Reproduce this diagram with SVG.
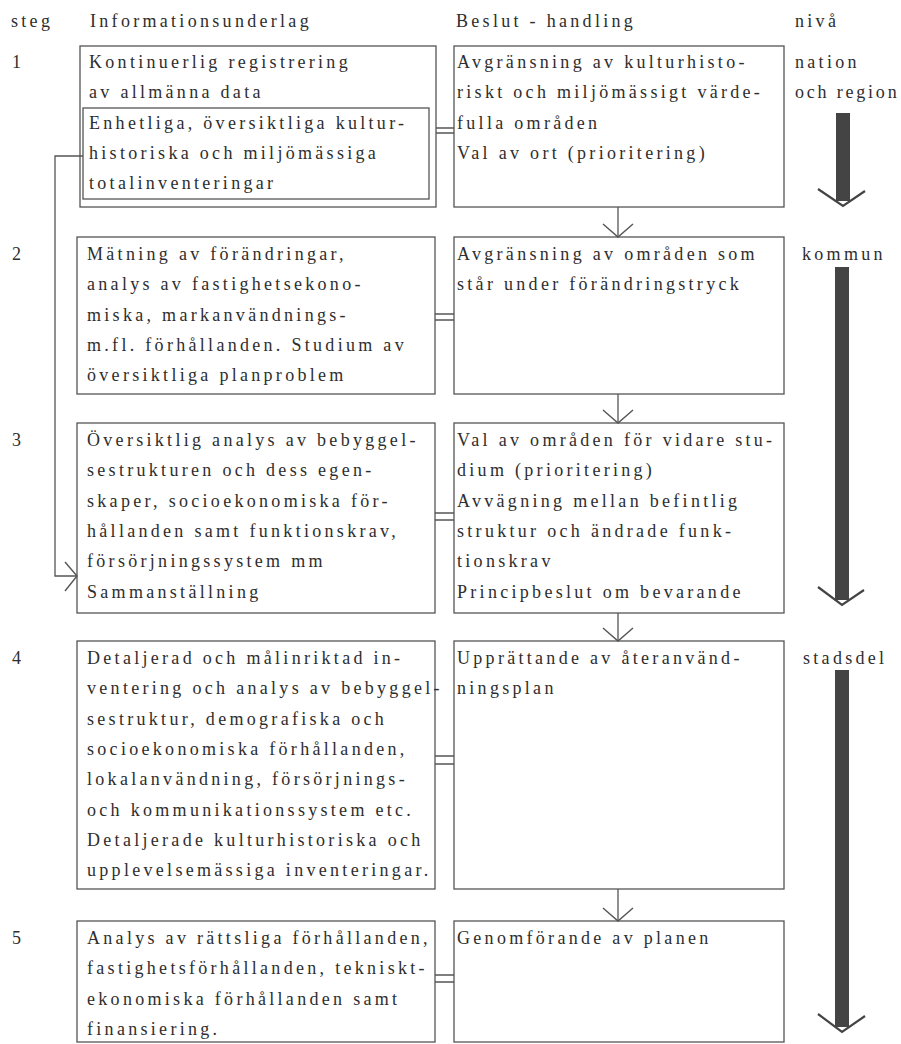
<svg xmlns="http://www.w3.org/2000/svg" width="901" height="1044" viewBox="0 0 901 1044">
<defs>
<style>
text{font-family:"Liberation Serif","Times New Roman",serif;font-size:18px;letter-spacing:3.3px;fill:#2e2e2e}
.box{fill:none;stroke:#555;stroke-width:1.3}
.ln{fill:none;stroke:#555;stroke-width:1.3}
.chev{fill:none;stroke:#555;stroke-width:1.4}
.big{fill:#444}
.bigchev{fill:none;stroke:#444;stroke-width:2.2}
</style>
</defs>
<rect width="901" height="1044" fill="#fff"/>
<g id="header">
<text x="11" y="27">steg</text>
<text x="90" y="27">Informationsunderlag</text>
<text x="456" y="27">Beslut - handling</text>
<text x="795" y="27">nivå</text>
</g>
<g id="steps">
<text x="12" y="68">1</text>
<text x="12" y="260">2</text>
<text x="12" y="446">3</text>
<text x="12" y="664">4</text>
<text x="12" y="944">5</text>
</g>
<g id="info1">
<rect class="box" x="80" y="46" width="356" height="161"/>
<text x="89" y="68">Kontinuerlig registrering</text>
<text x="89" y="98">av allmänna data</text>
<rect class="box" x="83" y="108" width="346" height="91"/>
<text x="89" y="129">Enhetliga, översiktliga kultur-</text>
<text x="89" y="159">historiska och miljömässiga</text>
<text x="89" y="189">totalinventeringar</text>
</g>
<g id="beslut1">
<rect class="box" x="454" y="46" width="330" height="161"/>
<text x="457" y="68">Avgränsning av kulturhisto-</text>
<text x="457" y="98">riskt och miljömässigt värde-</text>
<text x="457" y="129">fulla områden</text>
<text x="457" y="159">Val av ort (prioritering)</text>
</g>
<g id="info2">
<rect class="box" x="77" y="237" width="358" height="157"/>
<text x="87" y="260">Mätning av förändringar,</text>
<text x="87" y="290">analys av fastighetsekono-</text>
<text x="87" y="321">miska, markanvändnings-</text>
<text x="87" y="351">m.fl. förhållanden. Studium av</text>
<text x="87" y="381">översiktliga planproblem</text>
</g>
<g id="beslut2">
<rect class="box" x="454" y="237" width="330" height="157"/>
<text x="457" y="260">Avgränsning av områden som</text>
<text x="457" y="290">står under förändringstryck</text>
</g>
<g id="info3">
<rect class="box" x="77" y="423" width="358" height="190"/>
<text x="87" y="446">Översiktlig analys av bebyggel-</text>
<text x="87" y="476">sestrukturen och dess egen-</text>
<text x="87" y="507">skaper, socioekonomiska för-</text>
<text x="87" y="537">hållanden samt funktionskrav,</text>
<text x="87" y="567">försörjningssystem mm</text>
<text x="87" y="598">Sammanställning</text>
</g>
<g id="beslut3">
<rect class="box" x="454" y="423" width="330" height="190"/>
<text x="457" y="446">Val av områden för vidare stu-</text>
<text x="457" y="476">dium (prioritering)</text>
<text x="457" y="507">Avvägning mellan befintlig</text>
<text x="457" y="537">struktur och ändrade funk-</text>
<text x="457" y="567">tionskrav</text>
<text x="457" y="598">Principbeslut om bevarande</text>
</g>
<g id="info4">
<rect class="box" x="77" y="641" width="358" height="248"/>
<text x="87" y="664">Detaljerad och målinriktad in-</text>
<text x="87" y="694">ventering och analys av bebyggel-</text>
<text x="87" y="725">sestruktur, demografiska och</text>
<text x="87" y="755">socioekonomiska förhållanden,</text>
<text x="87" y="785">lokalanvändning, försörjnings-</text>
<text x="87" y="816">och kommunikationssystem etc.</text>
<text x="87" y="846">Detaljerade kulturhistoriska och</text>
<text x="87" y="876">upplevelsemässiga inventeringar.</text>
</g>
<g id="beslut4">
<rect class="box" x="454" y="641" width="330" height="248"/>
<text x="457" y="664">Upprättande av återanvänd-</text>
<text x="457" y="694">ningsplan</text>
</g>
<g id="info5">
<rect class="box" x="77" y="921" width="358" height="121"/>
<text x="87" y="944">Analys av rättsliga förhållanden,</text>
<text x="87" y="974">fastighetsförhållanden, tekniskt-</text>
<text x="87" y="1005">ekonomiska förhållanden samt</text>
<text x="87" y="1035">finansiering.</text>
</g>
<g id="beslut5">
<rect class="box" x="454" y="921" width="330" height="121"/>
<text x="457" y="944">Genomförande av planen</text>
</g>
<g id="niva">
<text x="795" y="68">nation</text>
<text x="795" y="98" style="letter-spacing:2.8px">och region</text>
<text x="802" y="260">kommun</text>
<text x="803" y="664">stadsdel</text>
<rect class="big" x="836" y="113" width="14" height="88"/>
<polyline class="bigchev" points="818,189 843,206 865,191"/>
<rect class="big" x="835" y="267" width="14" height="333"/>
<polyline class="bigchev" points="818,587 842,605 864,590"/>
<rect class="big" x="835" y="670" width="14" height="357"/>
<polyline class="bigchev" points="818,1014 842,1032 865,1016"/>
</g>
<g id="connectors">
<path class="ln" d="M436,128H454M436,133H454"/>
<path class="ln" d="M435,314H454M435,320H454"/>
<path class="ln" d="M435,513H454M435,520H454"/>
<path class="ln" d="M435,756H454M435,764H454"/>
<path class="ln" d="M435,975H454M435,982H454"/>
<path class="ln" d="M618,207V237"/>
<polyline class="chev" points="603,224 618,237 633,224"/>
<path class="ln" d="M618,394V423"/>
<polyline class="chev" points="603,410 618,423 633,410"/>
<path class="ln" d="M618,613V641"/>
<polyline class="chev" points="603,628 618,641 633,628"/>
<path class="ln" d="M618,889V921"/>
<polyline class="chev" points="603,908 618,921 633,908"/>
<path class="ln" d="M83,156H55V576H77"/>
<polyline class="chev" points="65,562 77,576 65,591"/>
</g>
</svg>
